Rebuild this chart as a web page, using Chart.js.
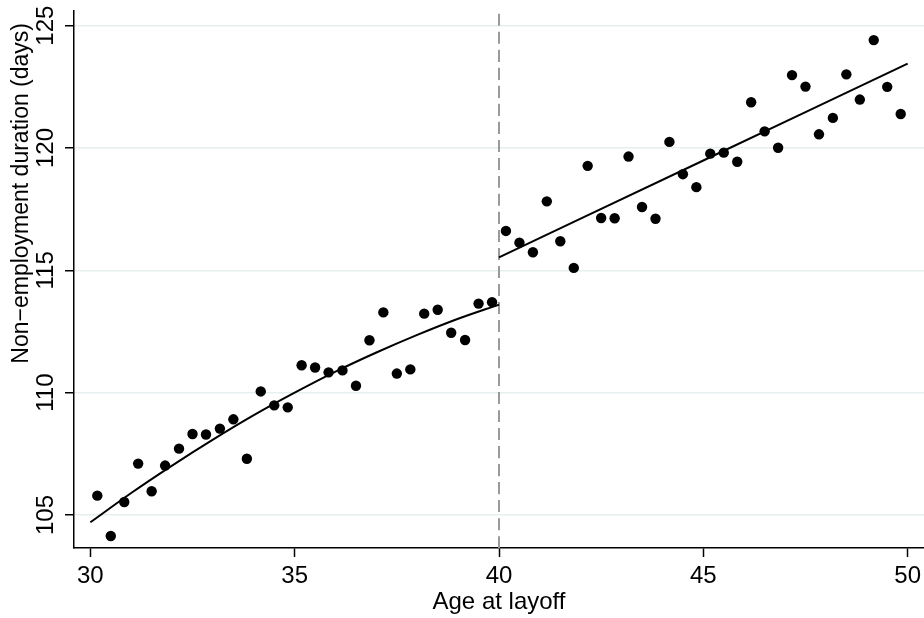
<!DOCTYPE html>
<html>
<head>
<meta charset="utf-8">
<script src="https://cdn.jsdelivr.net/npm/chart.js@4"></script>
<style>
    body { margin: 0; background: #fff; }
    #grafico { display: block; }
</style>
</head>
<body>
<canvas id="grafico" width="924" height="618"></canvas>
<script>
// bin means, below and above the age-40 cutoff
const leftAges = [30.17, 30.5, 30.83, 31.17, 31.5, 31.83, 32.17, 32.5, 32.83, 33.17,
    33.5, 33.83, 34.17, 34.5, 34.83, 35.17, 35.5, 35.83, 36.17, 36.5,
    36.83, 37.17, 37.5, 37.83, 38.17, 38.5, 38.83, 39.17, 39.5, 39.83];
const leftDays = [105.79, 104.14, 105.53, 107.10, 105.97, 107.02, 107.71, 108.31, 108.29, 108.53,
    108.91, 107.30, 110.05, 109.48, 109.40, 111.12, 111.03, 110.83, 110.91, 110.28,
    112.14, 113.28, 110.78, 110.95, 113.23, 113.39, 112.45, 112.15, 113.64, 113.70];

const rightAges = [40.17, 40.5, 40.83, 41.17, 41.5, 41.83, 42.17, 42.5, 42.83, 43.17,
    43.5, 43.83, 44.17, 44.5, 44.83, 45.17, 45.5, 45.83, 46.17, 46.5,
    46.83, 47.17, 47.5, 47.83, 48.17, 48.5, 48.83, 49.17, 49.5, 49.83];
const rightDays = [116.61, 116.13, 115.74, 117.82, 116.19, 115.10, 119.27, 117.14, 117.13, 119.65,
    117.59, 117.11, 120.25, 118.93, 118.40, 119.77, 119.81, 119.44, 121.87, 120.68,
    120.01, 122.98, 122.51, 120.56, 121.23, 123.01, 121.98, 124.41, 122.50, 121.39];

// fitted lines
const fitLeftAges = [30, 31, 32, 33, 34, 35, 36, 37, 38, 39, 40];
const fitLeftDays = [104.70, 105.90, 107.02, 108.08, 109.08, 110.00, 110.86, 111.64, 112.36, 113.02, 113.60];
const fitRightAges = [40, 45, 50];
const fitRightDays = [115.53, 119.49, 123.45];

const cutoffAge = 40;
const xRange = [29.6, 50.4];
const yRange = [103.65, 125.6];
const xTicks = [30, 35, 40, 45, 50];
const yTicks = [105, 110, 115, 120, 125];
const tituloY = 'Non−employment duration (days)';

const pares = (xs, ys) => xs.map((x, i) => ({ x, y: ys[i] }));

Chart.defaults.font.family = "'Liberation Sans', Arial, sans-serif";
Chart.defaults.color = '#000';

// y title hangs from the top of the axis, not centred on it
const tituloYPlugin = {
    id: 'tituloY',
    afterDraw(chart) {
        const ctx = chart.ctx;
        ctx.save();
        ctx.font = "23px 'Liberation Sans', Arial, sans-serif";
        ctx.fillStyle = '#000';
        ctx.textAlign = 'right';
        ctx.textBaseline = 'middle';
        ctx.translate(22, 23);
        ctx.rotate(-Math.PI / 2);
        ctx.fillText(tituloY, 0, 0);
        ctx.restore();
    }
};

const pontos = {
    type: 'scatter',
    pointRadius: 5.2,
    pointHoverRadius: 5.2,
    backgroundColor: '#000',
    borderWidth: 0,
    order: 0
};

const linha = {
    type: 'line',
    showLine: true,
    pointRadius: 0,
    borderColor: '#000',
    borderWidth: 2,
    fill: false,
    cubicInterpolationMode: 'monotone',
    order: 1
};

new Chart(document.getElementById('grafico'), {
    type: 'scatter',
    data: {
        datasets: [
            { ...pontos, data: pares(leftAges, leftDays) },
            { ...pontos, data: pares(rightAges, rightDays) },
            { ...linha, data: pares(fitLeftAges, fitLeftDays) },
            { ...linha, data: pares(fitRightAges, fitRightDays) },
            {
                ...linha,
                data: pares([cutoffAge, cutoffAge], yRange),
                borderColor: '#9a9a9a',
                borderWidth: 2,
                borderDash: [12, 6],
                order: 2
            }
        ]
    },
    options: {
        responsive: false,
        animation: false,
        devicePixelRatio: 1,
        layout: { autoPadding: false, padding: { top: 11, right: 0, left: 0, bottom: 0 } },
        plugins: {
            legend: { display: false },
            tooltip: { enabled: false }
        },
        scales: {
            x: {
                type: 'linear',
                min: xRange[0],
                max: xRange[1],
                afterBuildTicks: s => { s.ticks = xTicks.map(v => ({ value: v })); },
                afterFit: s => { s.height = 70; s.paddingLeft = 0; s.paddingRight = 0; },
                grid: { drawOnChartArea: false, tickLength: 9, tickColor: '#000', tickWidth: 1.5 },
                border: { color: '#000', width: 1.5 },
                ticks: { font: { size: 24 }, padding: 5, maxRotation: 0 },
                title: { display: true, text: 'Age at layoff', font: { size: 24 }, padding: { top: 0, bottom: 1 } }
            },
            y: {
                type: 'linear',
                min: yRange[0],
                max: yRange[1],
                afterBuildTicks: s => { s.ticks = yTicks.map(v => ({ value: v })); },
                afterFit: s => { s.width = 74; s.paddingTop = 0; s.paddingBottom = 0; },
                grid: { color: '#e6eff0', lineWidth: 1.5, tickLength: 9, tickColor: '#000', tickWidth: 1.5 },
                border: { color: '#000', width: 1.5 },
                ticks: { font: { size: 24 }, padding: -1, minRotation: 90, maxRotation: 90, crossAlign: 'center' }
            }
        }
    },
    plugins: [tituloYPlugin]
});
</script>
</body>
</html>
